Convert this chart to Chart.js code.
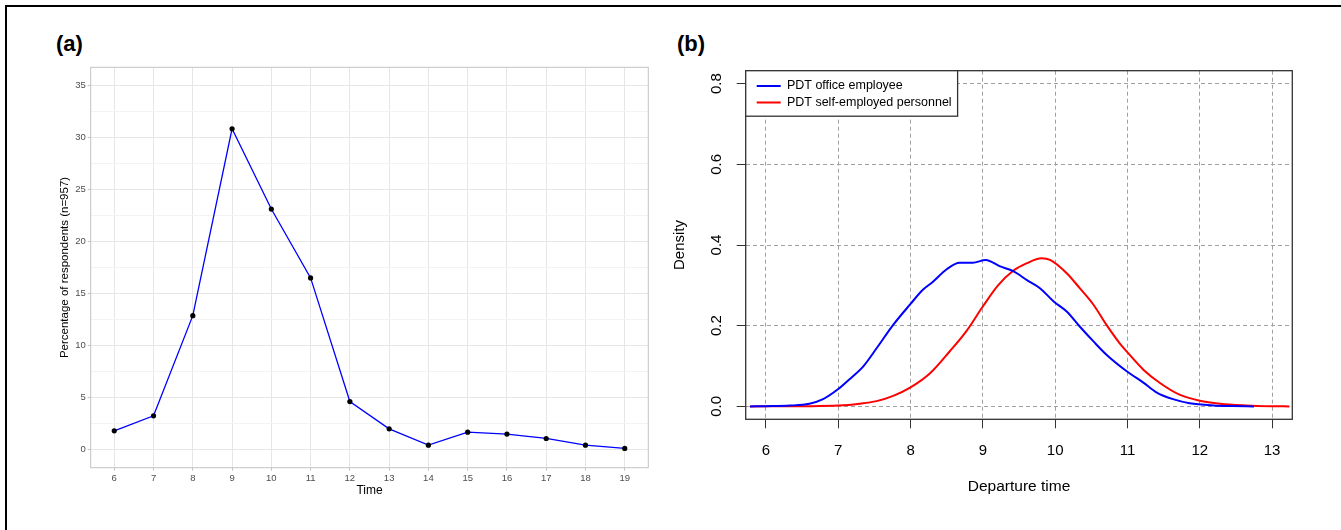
<!DOCTYPE html>
<html>
<head>
<meta charset="utf-8">
<script src="https://cdn.jsdelivr.net/npm/chart.js@4.4.1/dist/chart.umd.min.js"></script>
<style>
html,body{margin:0;padding:0;background:#fff;width:1341px;height:530px;overflow:hidden;}
#frame{position:absolute;left:5px;top:5px;width:1400px;height:600px;border-left:2px solid #000;border-top:2px solid #000;}
.lab{position:absolute;font-family:"Liberation Sans",Arial,Helvetica,sans-serif;font-weight:bold;font-size:22px;line-height:22px;color:#000;}
canvas{position:absolute;top:0;}
#ca{left:0;}
#cb{left:670px;}
</style>
</head>
<body>
<div id="frame"></div>
<div class="lab" style="left:56px;top:33px">(a)</div>
<div class="lab" style="left:677px;top:33px">(b)</div>
<canvas id="ca" width="670" height="530"></canvas>
<canvas id="cb" width="671" height="530"></canvas>
<script>
// ---------- Panel (a) data ----------
const hours = [6, 7, 8, 9, 10, 11, 12, 13, 14, 15, 16, 17, 18, 19];
const pctRespondents = [1.8, 3.24, 12.87, 30.84, 23.12, 16.5, 4.61, 1.99, 0.42, 1.67, 1.48, 1.06, 0.42, 0.1];
const yMajorA = [0, 5, 10, 15, 20, 25, 30, 35];
const yMinorA = [2.5, 7.5, 12.5, 17.5, 22.5, 27.5, 32.5];

// ---------- Panel (b) data ----------
const seriesNames = ['PDT office employee', 'PDT self-employed personnel'];
const officeX = [5.78, 6.0, 6.33, 6.6, 6.79, 7.0, 7.16, 7.35, 7.53, 7.76, 8.0, 8.17, 8.31, 8.5, 8.68, 8.86, 9.04, 9.24, 9.42, 9.61, 9.79, 9.98, 10.16, 10.34, 10.53, 10.71, 10.99, 11.22, 11.4, 11.63, 11.86, 12.19, 12.45, 12.75];
const officeDensity = [0, 0.0005, 0.002, 0.0066, 0.018, 0.043, 0.068, 0.10, 0.144, 0.202, 0.254, 0.289, 0.309, 0.34, 0.356, 0.356, 0.363, 0.347, 0.335, 0.313, 0.293, 0.26, 0.235, 0.198, 0.161, 0.128, 0.087, 0.059, 0.035, 0.018, 0.008, 0.0025, 0.001, 0];
const selfX = [5.78, 6.5, 7.0, 7.3, 7.53, 7.76, 8.0, 8.27, 8.54, 8.77, 8.99, 9.21, 9.42, 9.61, 9.81, 9.93, 10.16, 10.34, 10.53, 10.71, 10.89, 11.0, 11.22, 11.45, 11.72, 12.0, 12.28, 12.64, 13.0, 13.24];
const selfDensity = [0, 0.0005, 0.002, 0.0066, 0.013, 0.026, 0.047, 0.082, 0.136, 0.186, 0.245, 0.30, 0.336, 0.355, 0.367, 0.363, 0.33, 0.293, 0.252, 0.202, 0.157, 0.134, 0.091, 0.058, 0.029, 0.014, 0.0066, 0.0025, 0.0005, 0];
const xTicksB = [6, 7, 8, 9, 10, 11, 12, 13];
const yTicksB = [0, 0.2, 0.4, 0.6, 0.8];

const FONT = '"Liberation Sans", Arial, Helvetica, sans-serif';

// ---------- Panel (a) ----------
const panelBorderA = {
  id: 'panelBorderA',
  afterDraw(chart) {
    const {ctx, chartArea: a} = chart;
    ctx.save();
    ctx.strokeStyle = '#C4C4C4';
    ctx.lineWidth = 1;
    ctx.strokeRect(a.left, a.top, a.right - a.left, a.bottom - a.top);
    ctx.restore();
  }
};
const isMajorA = c => c && c.tick && yMajorA.includes(c.tick.value);

new Chart(document.getElementById('ca'), {
  type: 'line',
  data: {
    datasets: [{
      label: 'Percentage',
      data: hours.map((h, i) => ({x: h, y: pctRespondents[i]})),
      borderColor: '#0000FF',
      backgroundColor: '#000',
      borderWidth: 1.3,
      pointRadius: 2.6,
      pointBackgroundColor: '#000',
      pointBorderColor: '#000',
      pointBorderWidth: 0,
      tension: 0,
      fill: false
    }]
  },
  options: {
    responsive: false, animation: false, devicePixelRatio: 1,
    layout: {padding: {left: 0, top: 67.3, right: 21.7, bottom: 0}},
    plugins: {legend: {display: false}, tooltip: {enabled: false}},
    scales: {
      x: {
        type: 'linear', min: 5.4, max: 19.6,
        afterBuildTicks: s => { s.ticks = hours.map(v => ({value: v})); },
        afterFit: s => { s.height = 62.3; },
        ticks: {callback: v => String(v), color: '#4D4D4D', font: {family: FONT, size: 9.5}, padding: 2, maxRotation: 0, autoSkip: false},
        grid: {color: '#E6E6E6', lineWidth: 1, tickColor: '#C4C4C4', tickLength: 3},
        border: {display: false},
        title: {display: true, text: 'Time', color: '#000', font: {family: FONT, size: 12}, padding: {top: 0, bottom: 32}}
      },
      y: {
        type: 'linear', min: -1.75, max: 36.75,
        afterBuildTicks: s => { s.ticks = yMajorA.concat(yMinorA).sort((a, b) => a - b).map(v => ({value: v})); },
        afterFit: s => { s.width = 90.7; },
        ticks: {callback: v => (yMajorA.includes(v) ? String(v) : ''), color: '#4D4D4D', font: {family: FONT, size: 9.5}, padding: 2, autoSkip: false},
        grid: {
          color: c => (isMajorA(c) ? '#E6E6E6' : '#F3F3F3'),
          tickColor: c => (isMajorA(c) ? '#C4C4C4' : 'rgba(0,0,0,0)'),
          lineWidth: 1, tickLength: 3
        },
        border: {display: false},
        title: {display: true, text: 'Percentage of respondents (n=957)', color: '#000', font: {family: FONT, size: 11.5}, padding: {top: 58, bottom: 0}}
      }
    }
  },
  plugins: [panelBorderA]
});

// ---------- Panel (b) ----------
const legendShift = {
  id: 'legendShift',
  afterLayout(chart) {
    const lg = chart.legend;
    if (!lg) return;
    const a = chart.chartArea;
    lg.left = a.left + 7; lg.right = lg.left + lg.width;
    lg.top = a.top + 5; lg.bottom = lg.top + lg.height;
  }
};
const boxAndLegend = {
  id: 'boxAndLegend',
  beforeDatasetsDraw(chart) {
    const {ctx, chartArea: a} = chart;
    ctx.save();
    ctx.strokeStyle = '#333';
    ctx.lineWidth = 1.3;
    ctx.strokeRect(a.left, a.top, a.right - a.left, a.bottom - a.top);
    const lg = chart.legend;
    const hb = lg.legendHitBoxes;
    const r = Math.max(...hb.map(h => h.left + h.width)) + 6;
    const b = Math.max(...hb.map(h => h.top + h.height)) + 7.5;
    ctx.fillStyle = '#fff';
    ctx.fillRect(a.left, a.top, r - a.left, b - a.top);
    ctx.strokeRect(a.left, a.top, r - a.left, b - a.top);
    ctx.restore();
    lg.draw();
  }
};
const gridB = {color: '#A0A0A0', lineWidth: 1, tickColor: '#333', tickLength: 9, tickWidth: 1, tickBorderDash: []};

new Chart(document.getElementById('cb'), {
  type: 'line',
  data: {
    datasets: [
      {
        label: seriesNames[0],
        data: officeX.map((x, i) => ({x: x, y: officeDensity[i]})),
        borderColor: '#0000FF', backgroundColor: '#0000FF',
        borderWidth: 2, pointRadius: 0, cubicInterpolationMode: 'monotone', fill: false
      },
      {
        label: seriesNames[1],
        data: selfX.map((x, i) => ({x: x, y: selfDensity[i]})),
        borderColor: '#FF0000', backgroundColor: '#FF0000',
        borderWidth: 2, pointRadius: 0, cubicInterpolationMode: 'monotone', fill: false
      }
    ]
  },
  options: {
    responsive: false, animation: false, devicePixelRatio: 1,
    layout: {padding: {left: 0, top: 70.7, right: 48.7, bottom: 0}},
    plugins: {
      tooltip: {enabled: false},
      legend: {
        display: true, position: 'chartArea', align: 'start',
        labels: {
          boxWidth: 24, boxHeight: 2, padding: 4, color: '#000',
          font: {family: FONT, size: 12.5},
          generateLabels: chart => Chart.defaults.plugins.legend.labels.generateLabels(chart)
            .map(l => Object.assign({}, l, {fillStyle: l.strokeStyle, lineWidth: 0}))
        }
      }
    },
    scales: {
      x: {
        type: 'linear', min: 5.72, max: 13.28,
        afterBuildTicks: s => { s.ticks = xTicksB.map(v => ({value: v})); },
        afterFit: s => { s.height = 110.7; },
        ticks: {callback: v => String(v), color: '#000', font: {family: FONT, size: 15}, padding: 14, maxRotation: 0, autoSkip: false},
        grid: gridB,
        border: {display: false, dash: [4, 3]},
        title: {display: true, text: 'Departure time', color: '#000', font: {family: FONT, size: 15.5}, padding: {top: 0, bottom: 33.9}}
      },
      y: {
        type: 'linear', min: -0.032, max: 0.832,
        afterBuildTicks: s => { s.ticks = yTicksB.map(v => ({value: v})); },
        afterFit: s => { s.width = 75.7; },
        ticks: {callback: v => v.toFixed(1), color: '#000', font: {family: FONT, size: 15}, padding: 9.3, minRotation: 90, maxRotation: 90, crossAlign: 'center', autoSkip: false},
        grid: gridB,
        border: {display: false, dash: [4, 3]},
        title: {display: true, text: 'Density', color: '#000', font: {family: FONT, size: 15}, padding: {top: 0.4, bottom: 0}}
      }
    }
  },
  plugins: [legendShift, boxAndLegend]
});
</script>
</body>
</html>
